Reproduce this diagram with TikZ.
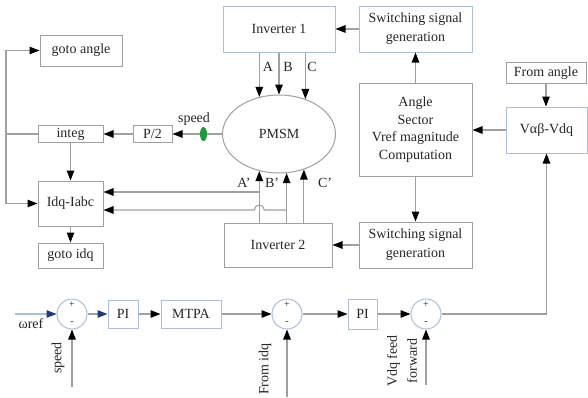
\documentclass[tikz,border=0pt]{standalone}
\usepackage{fontspec}
\setmainfont{Liberation Serif}
\usetikzlibrary{arrows.meta,shapes.geometric}
\definecolor{lin}{HTML}{A0A0A0}
\definecolor{bbl}{HTML}{A9BFDD}
\definecolor{dblue}{HTML}{1F3B7A}
\definecolor{spdgreen}{HTML}{1E9A3C}
\begin{document}
\begin{tikzpicture}[x=1pt,y=-1pt,
  every node/.style={font=\fontsize{14}{16}\selectfont, inner sep=0pt, text=black!85},
  gbox/.style={draw=lin, line width=1pt, rectangle, align=center},
  bbox/.style={draw=bbl, line width=1pt, rectangle, align=center},
  sumc/.style={draw=bbl, line width=1pt, circle, minimum size=30pt},
  sgn/.style={font=\fontsize{10}{10}\selectfont},
  conn/.style={draw=lin, line width=1.1pt},
  arr/.style={conn, -{Triangle[length=10pt,width=7.5pt,color=black]}},
  barr/.style={conn, -{Triangle[length=10pt,width=7.5pt,color=dblue]}},
]
\useasboundingbox (0,0) rectangle (588,397);

% upper left
\node[gbox, minimum width=82pt, minimum height=31pt] (gotoangle) at (81,50.5) {goto angle};
\node[gbox, minimum width=65pt, minimum height=17pt] (integ) at (70.5,134) {integ};
\node[gbox, minimum width=39pt, minimum height=17pt] (p2) at (152.5,134) {P/2};
\node[fill=spdgreen, ellipse, minimum width=7pt, minimum height=14pt] (spd) at (203.5,134) {};
\node (spdlabel) at (194,119) {speed};
\node[draw=lin, line width=1pt, ellipse, minimum width=113pt, minimum height=78pt] (pmsm) at (279,134) {PMSM};
\node[gbox, minimum width=65pt, minimum height=45pt] (idq) at (70.5,203.5) {Idq-Iabc};
\node[gbox, minimum width=65pt, minimum height=25pt] (gotoidq) at (70.5,255.5) {goto idq};

% inverters and control blocks
\node[bbox, minimum width=112pt, minimum height=46pt] (inv1) at (279,29) {Inverter 1};
\node[bbox, minimum width=113pt, minimum height=46pt, font=\fontsize{14}{19}\selectfont] (sw1) at (415.5,29) {Switching signal\\generation};
\node[gbox, minimum width=113pt, minimum height=93pt, font=\fontsize{14}{17.5}\selectfont] (ang) at (415.5,129.5) {Angle\\Sector\\Vref magnitude\\Computation};
\node[gbox, minimum width=113pt, minimum height=46pt, font=\fontsize{14}{19}\selectfont] (sw2) at (415.5,245) {Switching signal\\generation};
\node[gbox, minimum width=108pt, minimum height=44pt] (inv2) at (278,245) {Inverter 2};
\node[gbox, minimum width=80pt, minimum height=21pt] (fromangle) at (546,73) {From angle};
\node[bbox, minimum width=81pt, minimum height=46pt] (vab) at (546.5,130) {Vαβ-Vdq};

% phase labels
\node (la) at (268,67) {A};
\node (lb) at (288,67) {B};
\node (lc) at (312,67) {C};
\node (lap) at (244,183) {A’};
\node (lbp) at (272,183) {B’};
\node (lcp) at (325,183) {C’};

% bottom row
\node[sumc] (s1) at (72,314) {};
\node[sgn] (p1) at (72,305) {+};
\node[sgn] (m1) at (72,323) {-};
\node[bbox, minimum width=30pt, minimum height=28pt] (pi1) at (123,314) {PI};
\node[bbox, minimum width=60pt, minimum height=28pt] (mtpa) at (191,314) {MTPA};
\node[sumc] (s2) at (287,314) {};
\node[sgn] (p2s) at (287,305) {+};
\node[sgn] (m2) at (287,323) {-};
\node[bbox, minimum width=29pt, minimum height=30pt] (pi2) at (362.5,314) {PI};
\node[sumc] (s3) at (426,314) {};
\node[sgn] (p3) at (426,305) {+};
\node[sgn] (m3) at (426,323) {-};

\coordinate (wref) at (15,314);
\node (wlabel) at (31,324) {ωref};
\coordinate (spdin) at (72,387);
\node[rotate=90] (spdlab) at (58,358) {speed};
\coordinate (idqin) at (287,397);
\node[rotate=90] (fidq) at (265,369) {From idq};
\coordinate (vffin) at (426,385);
\node[rotate=90, align=center, font=\fontsize{14}{20}\selectfont] (vff) at (402,361) {Vdq feed\\forward};

% connectors: bottom row
\draw[barr, draw=bbl] (wref) -- (s1);
\draw[barr] (s1) -- (pi1);
\draw[arr] (pi1) -- (mtpa);
\draw[arr] (mtpa) -- (s2);
\draw[arr] (s2) -- (pi2);
\draw[arr] (pi2) -- (s3);
\draw[arr] (spdin) -- (s1);
\draw[arr] (idqin) -- (s2);
\draw[arr] (vffin) -- (s3);
\draw[arr] (s3) -| (vab.south);

% right side
\draw[arr] (fromangle.south) -- (fromangle.south |- vab.north);
\draw[arr] (vab.west) -- (ang.east |- vab.west);
\draw[arr] (ang.north) -- (sw1.south);
\draw[arr] (ang.south) -- (sw2.north);
\draw[arr] (sw1.west) -- (inv1.east |- sw1.west);
\draw[arr] (sw2.west) -- (inv2.east |- sw2.west);

% phases
\draw[arr] (pmsm.118.7 |- inv1.south) -- (pmsm.118.7);
\draw[arr] (pmsm.90 |- inv1.south) -- (pmsm.90);
\draw[arr] (pmsm.53.1 |- inv1.south) -- (pmsm.53.1);
\draw[arr] (inv2.north -| pmsm.242.6) -- (pmsm.242.6);
\draw[arr] (inv2.north -| pmsm.281.8) -- (pmsm.281.8);
\draw[arr] (inv2.north -| pmsm.305.6) -- (pmsm.305.6);

% current feedback
\coordinate (jA) at (pmsm.242.6 |- 0,192);
\coordinate (jB) at (pmsm.281.8 |- 0,210);
\coordinate (jH) at (pmsm.242.6 |- 0,210);
\draw[arr] (jA) -- (idq.east |- jA);
\draw[arr] (jB) -- ([xshift=5pt]jH) arc[start angle=0,end angle=180,radius=5pt] -- (idq.east |- jB);

% left side
\coordinate (jL) at (6,134);
\draw[conn] (pmsm.west) -- (spd.east);
\draw[arr] (spd.west) -- (p2.east);
\draw[arr] (p2.west) -- (integ.east);
\draw[conn] (integ.west) -- (jL);
\draw[arr] (jL) |- (gotoangle.west);
\draw[arr] (jL) |- (idq.west);
\draw[arr] (integ.south) -- (idq.north);
\draw[arr] (idq.south) -- (gotoidq.north);
\end{tikzpicture}
\end{document}
